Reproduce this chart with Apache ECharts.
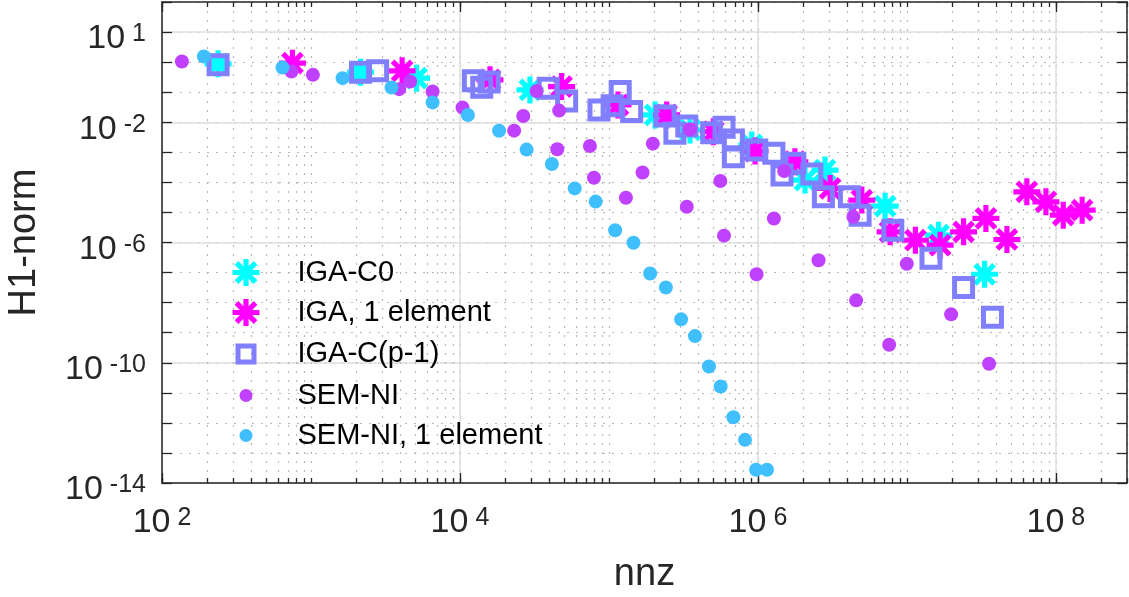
<!DOCTYPE html>
<html>
<head>
<meta charset="utf-8">
<script src="https://cdn.jsdelivr.net/npm/echarts@6/dist/echarts.min.js"></script>
<style>html,body{margin:0;padding:0;background:#fff}#chart{width:1129px;height:597px}</style>
</head>
<body>
<div id="chart"></div>
<script>
// ---------------- data ----------------
const seriesNames = ['IGA-C0', 'IGA, 1 element', 'IGA-C(p-1)', 'SEM-NI', 'SEM-NI, 1 element'];

const igaC0Nnz = [238, 2150, 5110, 29500, 204000, 350000, 909000, 2070000, 2820000, 7140000, 16300000, 33200000];
const igaC0Err = [0.878, 0.464, 0.293, 0.119, 0.0175, 5.54e-3, 1.75e-3, 1.19e-4, 2.57e-4, 1.62e-5, 1.75e-6, 8.78e-8];

const iga1Nnz = [751, 4090, 15900, 48100, 115000, 244000, 502000, 956000, 1770000, 3050000, 4980000, 7710000, 11400000, 16700000, 24000000, 33900000, 46900000, 63800000, 85700000, 112000000, 150000000];
const iga1Err = [0.926, 0.513, 0.257, 0.154, 0.0377, 0.0175, 4.86e-3, 1.10e-3, 4.86e-4, 6.31e-5, 2.57e-5, 2.26e-6, 1.19e-6, 8.13e-7, 2.26e-6, 6.31e-6, 1.26e-6, 4.86e-5, 2.26e-5, 8.13e-6, 1.19e-5];

const igaCpNnz = [238, 2150, 2800, 12300, 14000, 15700, 39100, 52000, 85700, 105000, 119000, 142000, 238000, 277000, 333000, 489000, 592000, 684000, 684000, 982000, 1280000, 1450000, 1770000, 2300000, 2750000, 4110000, 4850000, 8040000, 14500000, 24000000, 37500000];
const igaCpErr = [0.813, 0.464, 0.513, 0.242, 0.147, 0.217, 0.136, 0.0513, 0.0257, 0.0357, 0.105, 0.0226, 0.0162, 4.30e-3, 7.53e-3, 4.50e-3, 6.81e-3, 2.57e-3, 7.13e-4, 1.19e-3, 9.26e-4, 1.75e-4, 4.30e-4, 1.89e-4, 3.31e-5, 3.31e-5, 8.13e-6, 2.57e-6, 3.00e-7, 3.16e-8, 3.24e-9];

const semNnz = [136, 740, 1030, 3910, 4630, 6550, 10400, 23100, 26600, 32700, 45000, 46300, 74500, 79300, 130000, 168000, 197000, 333000, 350000, 559000, 592000, 979000, 1280000, 1500000, 2550000, 4370000, 4560000, 7600000, 9980000, 19800000, 35600000];
const semErr = [1.05, 0.486, 0.377, 0.126, 0.226, 0.105, 0.0307, 5.25e-3, 0.0162, 0.11, 1.26e-3, 0.0244, 1.62e-3, 1.42e-4, 3.07e-5, 2.12e-4, 1.94e-3, 1.54e-5, 5.84e-3, 1.11e-4, 1.69e-6, 8.78e-8, 6.31e-6, 2.38e-4, 2.57e-7, 7.14e-6, 1.19e-8, 3.98e-10, 1.97e-7, 4.07e-9, 9.26e-11];

const sem1Nnz = [191, 644, 1630, 3470, 6550, 11300, 18300, 28000, 41400, 58900, 81400, 110000, 146000, 189000, 241000, 305000, 378000, 469000, 562000, 684000, 819000, 971000, 1150000];
const sem1Err = [1.54, 0.66, 0.293, 0.142, 0.0457, 0.0175, 5.21e-3, 1.23e-3, 4.07e-4, 6.31e-5, 2.29e-5, 2.57e-6, 9.85e-7, 9.26e-8, 3.19e-8, 2.78e-9, 7.7e-10, 7.53e-11, 1.62e-11, 1.54e-12, 2.73e-13, 2.77e-14, 2.77e-14];

// axis ranges and tick labels (powers of ten)
const xMinValue = 1e2, xMaxValue = 3e8;
const yMinValue = 1e-14, yMaxValue = 1e2;
const xLabelExps = [2, 4, 6, 8];
const yLabelExps = [1, -2, -6, -10, -14];
const minorMultipliers = [1, 2, 3, 4, 5, 6, 7, 8, 9];

// ---------------- build ----------------
const L = Math.log10;
const XMIN = L(xMinValue), XMAX = L(xMaxValue), YMIN = L(yMinValue), YMAX = L(yMaxValue);
const xMinor = [];
for (let n = XMIN; n <= Math.floor(XMAX); n++) {
  minorMultipliers.forEach(k => { const v = n + L(k); if (v <= XMAX + 1e-9) xMinor.push(v); });
}
const toPts = (xs, ys) => xs.map((x, i) => [L(x), L(ys[i])]);

const AST = 'path://M-13 -2.5L13 -2.5L13 2.5L-13 2.5Z M-2.5 -13L2.5 -13L2.5 13L-2.5 13Z M-7.42 -10.96L10.96 7.42L7.42 10.96L-10.96 -7.42Z M-10.96 7.42L7.42 -10.96L10.96 -7.42L-7.42 10.96Z';
const SQ_ICON = 'path://M0 0M27 27M5.5 5.5L21.5 5.5L21.5 21.5L5.5 21.5Z';
const DOT_ICON = 'path://M0 0M27 27M7 13.5A6.5 6.5 0 1 1 20 13.5A6.5 6.5 0 1 1 7 13.5Z';

const AX = '#262626';
const FONT = 'Liberation Sans';
const rich = {
  b: { fontSize: 34, lineHeight: 34, padding: [14, 0, 0, 0], color: AX, fontFamily: FONT },
  s: { fontSize: 25, lineHeight: 25, padding: [7, 0, 0, 7], verticalAlign: 'top', color: AX, fontFamily: FONT }
};
const fmt = list => v => { const e = Math.round(v); return (Math.abs(v - e) < 1e-6 && list.indexOf(e) >= 0) ? '{b|10}{s|' + e + '}' : ''; };

const dotted = { color: '#b8b8b8', width: 1.2, type: [2, 7] };
const solid = { color: '#dedede', width: 1.5, type: 'solid' };
const axLine = { show: true, onZero: false, lineStyle: { color: AX, width: 1.5 } };
const noLine = { show: false, onZero: false };

const baseX = (pos) => ({ type: 'value', gridIndex: 0, position: pos, min: XMIN, max: XMAX, interval: 1 });
const baseY = (pos) => ({ type: 'value', gridIndex: 0, position: pos, min: YMIN, max: YMAX, interval: 1 });

const option = {
  animation: false,
  backgroundColor: '#ffffff',
  textStyle: { fontFamily: FONT },
  grid: { left: 162, right: 2, top: 2, bottom: 114, containLabel: false, outerBoundsMode: 'none' },
  xAxis: [
    Object.assign(baseX('bottom'), {
      name: 'nnz', nameLocation: 'middle', nameGap: 73,
      nameTextStyle: { fontSize: 38, color: AX, fontFamily: FONT },
      axisLine: axLine,
      axisTick: { show: true, inside: true, length: 5, customValues: xMinor, lineStyle: { color: AX, width: 1.3 } },
      axisLabel: { show: true, customValues: xLabelExps, margin: 16, formatter: fmt(xLabelExps), rich: rich },
      splitLine: { show: true, lineStyle: dotted }
    }),
    Object.assign(baseX('bottom'), {
      axisLine: noLine,
      axisTick: { show: true, inside: true, length: 10, customValues: xLabelExps, lineStyle: { color: AX, width: 1.3 } },
      axisLabel: { show: false },
      splitLine: { show: true, lineStyle: solid }
    }),
    Object.assign(baseX('top'), {
      axisLine: axLine,
      axisTick: { show: true, inside: true, length: 5, customValues: xMinor, lineStyle: { color: AX, width: 1.3 } },
      axisLabel: { show: false },
      splitLine: { show: false }
    }),
    Object.assign(baseX('top'), {
      axisLine: noLine,
      axisTick: { show: true, inside: true, length: 10, customValues: xLabelExps, lineStyle: { color: AX, width: 1.3 } },
      axisLabel: { show: false },
      splitLine: { show: false }
    })
  ],
  yAxis: [
    Object.assign(baseY('left'), {
      name: 'H1-norm', nameLocation: 'middle', nameGap: 118,
      nameTextStyle: { fontSize: 38, color: AX, fontFamily: FONT },
      axisLine: axLine,
      axisTick: { show: true, inside: true, length: 10, lineStyle: { color: AX, width: 1.3 } },
      axisLabel: { show: true, customValues: yLabelExps, margin: 16, formatter: fmt(yLabelExps), rich: rich },
      splitLine: { show: true, lineStyle: dotted }
    }),
    Object.assign(baseY('left'), {
      axisLine: noLine,
      axisTick: { show: false, customValues: yLabelExps },
      axisLabel: { show: false },
      splitLine: { show: true, lineStyle: solid }
    }),
    Object.assign(baseY('right'), {
      axisLine: axLine,
      axisTick: { show: true, inside: true, length: 10, lineStyle: { color: AX, width: 1.3 } },
      axisLabel: { show: false },
      splitLine: { show: false }
    })
  ],
  legend: {
    orient: 'vertical', left: 230, top: 258, padding: 0,
    itemWidth: 27, itemHeight: 27, itemGap: 11,
    selectedMode: false,
    textStyle: { fontSize: 29, lineHeight: 29, color: '#000', fontFamily: FONT, padding: [0, 0, 0, 33] },
    data: [
      { name: seriesNames[0], icon: AST },
      { name: seriesNames[1], icon: AST },
      { name: seriesNames[2], icon: SQ_ICON, itemStyle: { color: 'rgba(0,0,0,0)', borderColor: '#8080ff', borderWidth: 5 } },
      { name: seriesNames[3], icon: DOT_ICON },
      { name: seriesNames[4], icon: DOT_ICON }
    ]
  },
  series: [
    { name: seriesNames[0], type: 'scatter', xAxisIndex: 0, yAxisIndex: 0, symbol: AST, symbolSize: 27,
      itemStyle: { color: '#00ffff', opacity: 1 }, data: toPts(igaC0Nnz, igaC0Err) },
    { name: seriesNames[1], type: 'scatter', xAxisIndex: 0, yAxisIndex: 0, symbol: AST, symbolSize: 27,
      itemStyle: { color: '#ff00ff', opacity: 1 }, data: toPts(iga1Nnz, iga1Err) },
    { name: seriesNames[2], type: 'scatter', xAxisIndex: 0, yAxisIndex: 0, symbol: 'rect', symbolSize: 18,
      itemStyle: { color: 'rgba(0,0,0,0)', borderColor: '#8080ff', borderWidth: 5, opacity: 1 }, data: toPts(igaCpNnz, igaCpErr) },
    { name: seriesNames[3], type: 'scatter', xAxisIndex: 0, yAxisIndex: 0, symbol: 'circle', symbolSize: 14,
      itemStyle: { color: '#bf40ff', opacity: 1 }, data: toPts(semNnz, semErr) },
    { name: seriesNames[4], type: 'scatter', xAxisIndex: 0, yAxisIndex: 0, symbol: 'circle', symbolSize: 14,
      itemStyle: { color: '#40bfff', opacity: 1 }, data: toPts(sem1Nnz, sem1Err) }
  ]
};

const chart = echarts.init(document.getElementById('chart'), null, { renderer: 'canvas' });
chart.setOption(option);
</script>
</body>
</html>
